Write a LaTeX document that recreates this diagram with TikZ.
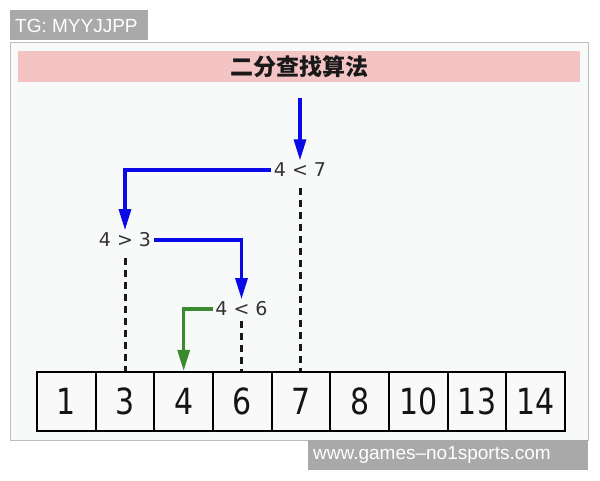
\documentclass[tikz,border=0pt]{standalone}
\usepackage{fontspec}
\usepackage{graphicx}
\setmainfont{DejaVu Sans}
\newfontfamily\cjkfont{Noto Sans CJK SC}
\newfontfamily\libfont{Liberation Sans}
\usetikzlibrary{arrows.meta}
\definecolor{arrowblue}{HTML}{0A0AE6}
\definecolor{arrowgreen}{HTML}{3A8A2E}
\definecolor{titlepink}{HTML}{F4C4C4}
\definecolor{framefill}{HTML}{F8F9F9}
\definecolor{framedraw}{HTML}{BDBDBD}
\definecolor{tagfill}{HTML}{A9A9A9}
\begin{document}
\begin{tikzpicture}[x=1pt,y=-1pt,
  cmp/.style={font=\fontsize{19}{19}\selectfont, text=black!80, inner sep=2.5pt},
  cell/.style={draw=black, line width=2.2pt, fill=gray!5, minimum width=58.67pt,
    minimum height=59pt, inner sep=0pt, font=\fontsize{30}{30}\selectfont, text=black!92},
  flow/.style={line width=3.2pt, -{Triangle[length=21pt,width=12pt]}},
  guide/.style={line width=3pt, dash pattern=on 7pt off 5pt, black!90},
  tag/.style={fill=tagfill, text=white, font=\libfont\fontsize{19}{19}\selectfont, inner sep=0pt}
]
\fill[white] (0,0) rectangle (600,480);
\useasboundingbox (0,0) rectangle (600,480);
% frame and title
\filldraw[fill=framefill, draw=framedraw, line width=1pt] (10,42) rectangle (588,440);
\fill[titlepink] (18,51) rectangle (580,82);
\node[font=\cjkfont\bfseries\fontsize{23}{23}\selectfont, text=black!90] (title) at (299,67) {二分查找算法};
% tags
\fill[tagfill] (10,10) rectangle (148,40);
\node[tag, anchor=west] (tg) at (15,25.5) {TG: MYYJJPP};
\fill[tagfill] (308,440) rectangle (588,470);
\node[tag, anchor=west] (wm) at (313,455) {www.games–no1sports.com};
% array
\foreach \v [count=\i from 0] in {1,3,4,6,7,8,10,13,14}
  \node[cell] (n\v) at ({66.33+58.67*\i},401.5) {\scalebox{1}[1.2]{\v}};
% comparisons
\node[cmp] (c7) at (300,170) {4 < 7};
\node[cmp] (c3) at (125,240) {4 > 3};
\node[cmp] (c6) at (241.5,309) {4 < 6};
\coordinate (start) at (300,98);
% arrows
\draw[flow, arrowblue] (start) -- (c7.north);
\draw[flow, arrowblue] (c7.west) -| (c3.north);
\draw[flow, arrowblue] (c3.east) -| (c6.north);
\draw[flow, arrowgreen] (c6.west) -| (n4.north);
% dashed guides
\draw[guide, shorten <=8pt] (c7.south) -- (c7.south |- n7.north);
\draw[guide, shorten <=8pt] (c3.south) -- (c3.south |- n3.north);
\draw[guide, shorten <=2pt] (c6.south) -- (c6.south |- n6.north);
\end{tikzpicture}
\end{document}
